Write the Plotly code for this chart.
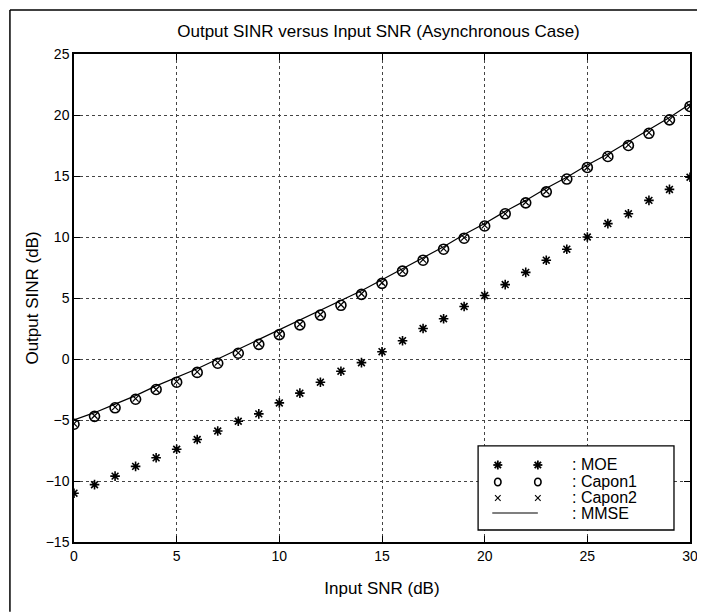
import plotly.graph_objects as go

snr_in = list(range(0, 31))

moe = [-11.0, -10.3, -9.6, -8.8, -8.1, -7.4, -6.6, -5.9, -5.1, -4.5, -3.6,
       -2.8, -1.9, -1.0, -0.3, 0.6, 1.5, 2.5, 3.3, 4.3, 5.2, 6.1, 7.1, 8.1,
       9.0, 10.0, 11.1, 11.9, 13.0, 13.9, 14.9]

capon1 = [-5.35, -4.7, -4.0, -3.3, -2.5, -1.9, -1.1, -0.35, 0.47, 1.2, 2.0,
          2.8, 3.6, 4.4, 5.3, 6.2, 7.2, 8.1, 9.0, 9.9, 10.9, 11.9, 12.8, 13.7,
          14.75, 15.7, 16.6, 17.5, 18.5, 19.6, 20.7]

capon2 = [-5.3, -4.65, -3.95, -3.25, -2.5, -1.85, -1.05, -0.3, 0.5, 1.25, 2.05,
          2.85, 3.65, 4.45, 5.35, 6.25, 7.2, 8.15, 9.05, 9.95, 10.95, 11.9, 12.85, 13.75,
          14.8, 15.7, 16.65, 17.55, 18.55, 19.6, 20.7]

mmse = [-5.0, -4.4, -3.7, -3.0, -2.2, -1.5, -0.8, 0.0, 0.8, 1.6, 2.4, 3.2,
        4.0, 4.8, 5.6, 6.5, 7.4, 8.3, 9.2, 10.2, 11.1, 12.1, 13.0, 14.0, 14.9,
        15.9, 16.8, 17.8, 18.8, 19.8, 20.9]

x_ticks = [0, 5, 10, 15, 20, 25, 30]
y_ticks = [-15, -10, -5, 0, 5, 10, 15, 20, 25]

legend_labels = [": MOE", ": Capon1", ": Capon2", ": MMSE"]
legend_kinds = ["star", "circle", "x", "line"]

font_family = "Liberation Sans, Arial, Helvetica, sans-serif"
tick_size = 14
title_size = 17

fig = go.Figure()
fig.add_trace(go.Scatter(
    x=snr_in, y=moe, mode="markers", name="MOE",
    marker=dict(symbol="asterisk-open", size=8, color="black",
                line=dict(color="black", width=1.6))))
fig.add_trace(go.Scatter(
    x=snr_in, y=capon1, mode="markers", name="Capon1",
    marker=dict(symbol="circle-open", size=10, color="black",
                line=dict(color="black", width=1.6))))
fig.add_trace(go.Scatter(
    x=snr_in, y=capon2, mode="markers", name="Capon2",
    marker=dict(symbol="x-thin-open", size=6, color="black",
                line=dict(color="black", width=1.2))))
fig.add_trace(go.Scatter(
    x=snr_in, y=mmse, mode="lines", name="MMSE",
    line=dict(color="black", width=1.2)))

axis_common = dict(
    showline=True, linecolor="black", linewidth=1.5, mirror="ticks",
    ticks="inside", ticklen=6, tickcolor="black", tickwidth=1,
    showgrid=True, gridcolor="#444444", griddash="dot", gridwidth=1,
    zeroline=False, automargin=False,
    tickfont=dict(family=font_family, size=tick_size, color="black"),
)

fig.update_xaxes(range=[0, 30], tickvals=x_ticks,
                 title=dict(text="Input SNR (dB)", standoff=20,
                            font=dict(family=font_family, size=title_size, color="black")),
                 **axis_common)
fig.update_yaxes(range=[-15, 25], tickvals=y_ticks,
                 title=dict(text="Output SINR (dB)", standoff=3,
                            font=dict(family=font_family, size=title_size, color="black")),
                 **axis_common)

# Manual MATLAB-style legend box (paper coordinates of the plot area)
box_x0, box_x1, box_y0, box_y1 = 0.656, 0.974, 0.0246, 0.197
row_y = [0.1578, 0.123, 0.0902, 0.0594]
glyph_x = [0.688, 0.753]
text_x = 0.805

shapes = [
    dict(type="rect", xref="paper", yref="paper", x0=box_x0, x1=box_x1,
         y0=box_y0, y1=box_y1, fillcolor="white",
         line=dict(color="black", width=1.3), layer="above"),
    # figure frame from the scanned page
    dict(type="line", xref="paper", yref="paper", x0=-0.104, x1=-0.104,
         y0=-0.143, y1=1.09, line=dict(color="black", width=1.5)),
    dict(type="line", xref="paper", yref="paper", x0=-0.104, x1=1.04,
         y0=1.09, y1=1.09, line=dict(color="black", width=1.5)),
]


def pix_line(gx, gy, dx0, dy0, dx1, dy1, w):
    return dict(type="line", xref="paper", yref="paper",
                xsizemode="pixel", ysizemode="pixel", xanchor=gx, yanchor=gy,
                x0=dx0, x1=dx1, y0=dy0, y1=dy1,
                line=dict(color="black", width=w), layer="above")


annotations = []
for lbl, kind, ry in zip(legend_labels, legend_kinds, row_y):
    annotations.append(dict(
        xref="paper", yref="paper", x=text_x, y=ry, text=lbl,
        xanchor="left", yanchor="middle", showarrow=False,
        font=dict(family=font_family, size=16, color="black")))
    if kind == "line":
        shapes.append(dict(type="line", xref="paper", yref="paper",
                           x0=0.679, x1=0.753, y0=ry, y1=ry,
                           line=dict(color="black", width=1.2), layer="above"))
        continue
    for gx in glyph_x:
        if kind == "circle":
            shapes.append(dict(type="circle", xref="paper", yref="paper",
                               xsizemode="pixel", ysizemode="pixel",
                               xanchor=gx, yanchor=ry, x0=-3.2, x1=3.2,
                               y0=-3.8, y1=3.8,
                               line=dict(color="black", width=1.6), layer="above"))
        elif kind == "x":
            shapes.append(pix_line(gx, ry, -2.8, -2.8, 2.8, 2.8, 1.1))
            shapes.append(pix_line(gx, ry, -2.8, 2.8, 2.8, -2.8, 1.1))
        elif kind == "star":
            shapes.append(pix_line(gx, ry, 0, -4.5, 0, 4.5, 1.8))
            shapes.append(pix_line(gx, ry, -4.5, 0, 4.5, 0, 1.8))
            shapes.append(pix_line(gx, ry, -3.2, -3.2, 3.2, 3.2, 1.8))
            shapes.append(pix_line(gx, ry, -3.2, 3.2, 3.2, -3.2, 1.8))

fig.update_layout(
    width=697, height=604,
    margin=dict(l=66, r=15, t=46, b=70, autoexpand=False),
    paper_bgcolor="white", plot_bgcolor="white",
    title=dict(text="Output SINR versus Input SNR (Asynchronous Case)",
               x=0.5316, xanchor="center", y=0.962, yanchor="middle",
               font=dict(family=font_family, size=title_size, color="black")),
    showlegend=False,
    shapes=shapes,
    annotations=annotations,
)

fig.write_html("out.html")
